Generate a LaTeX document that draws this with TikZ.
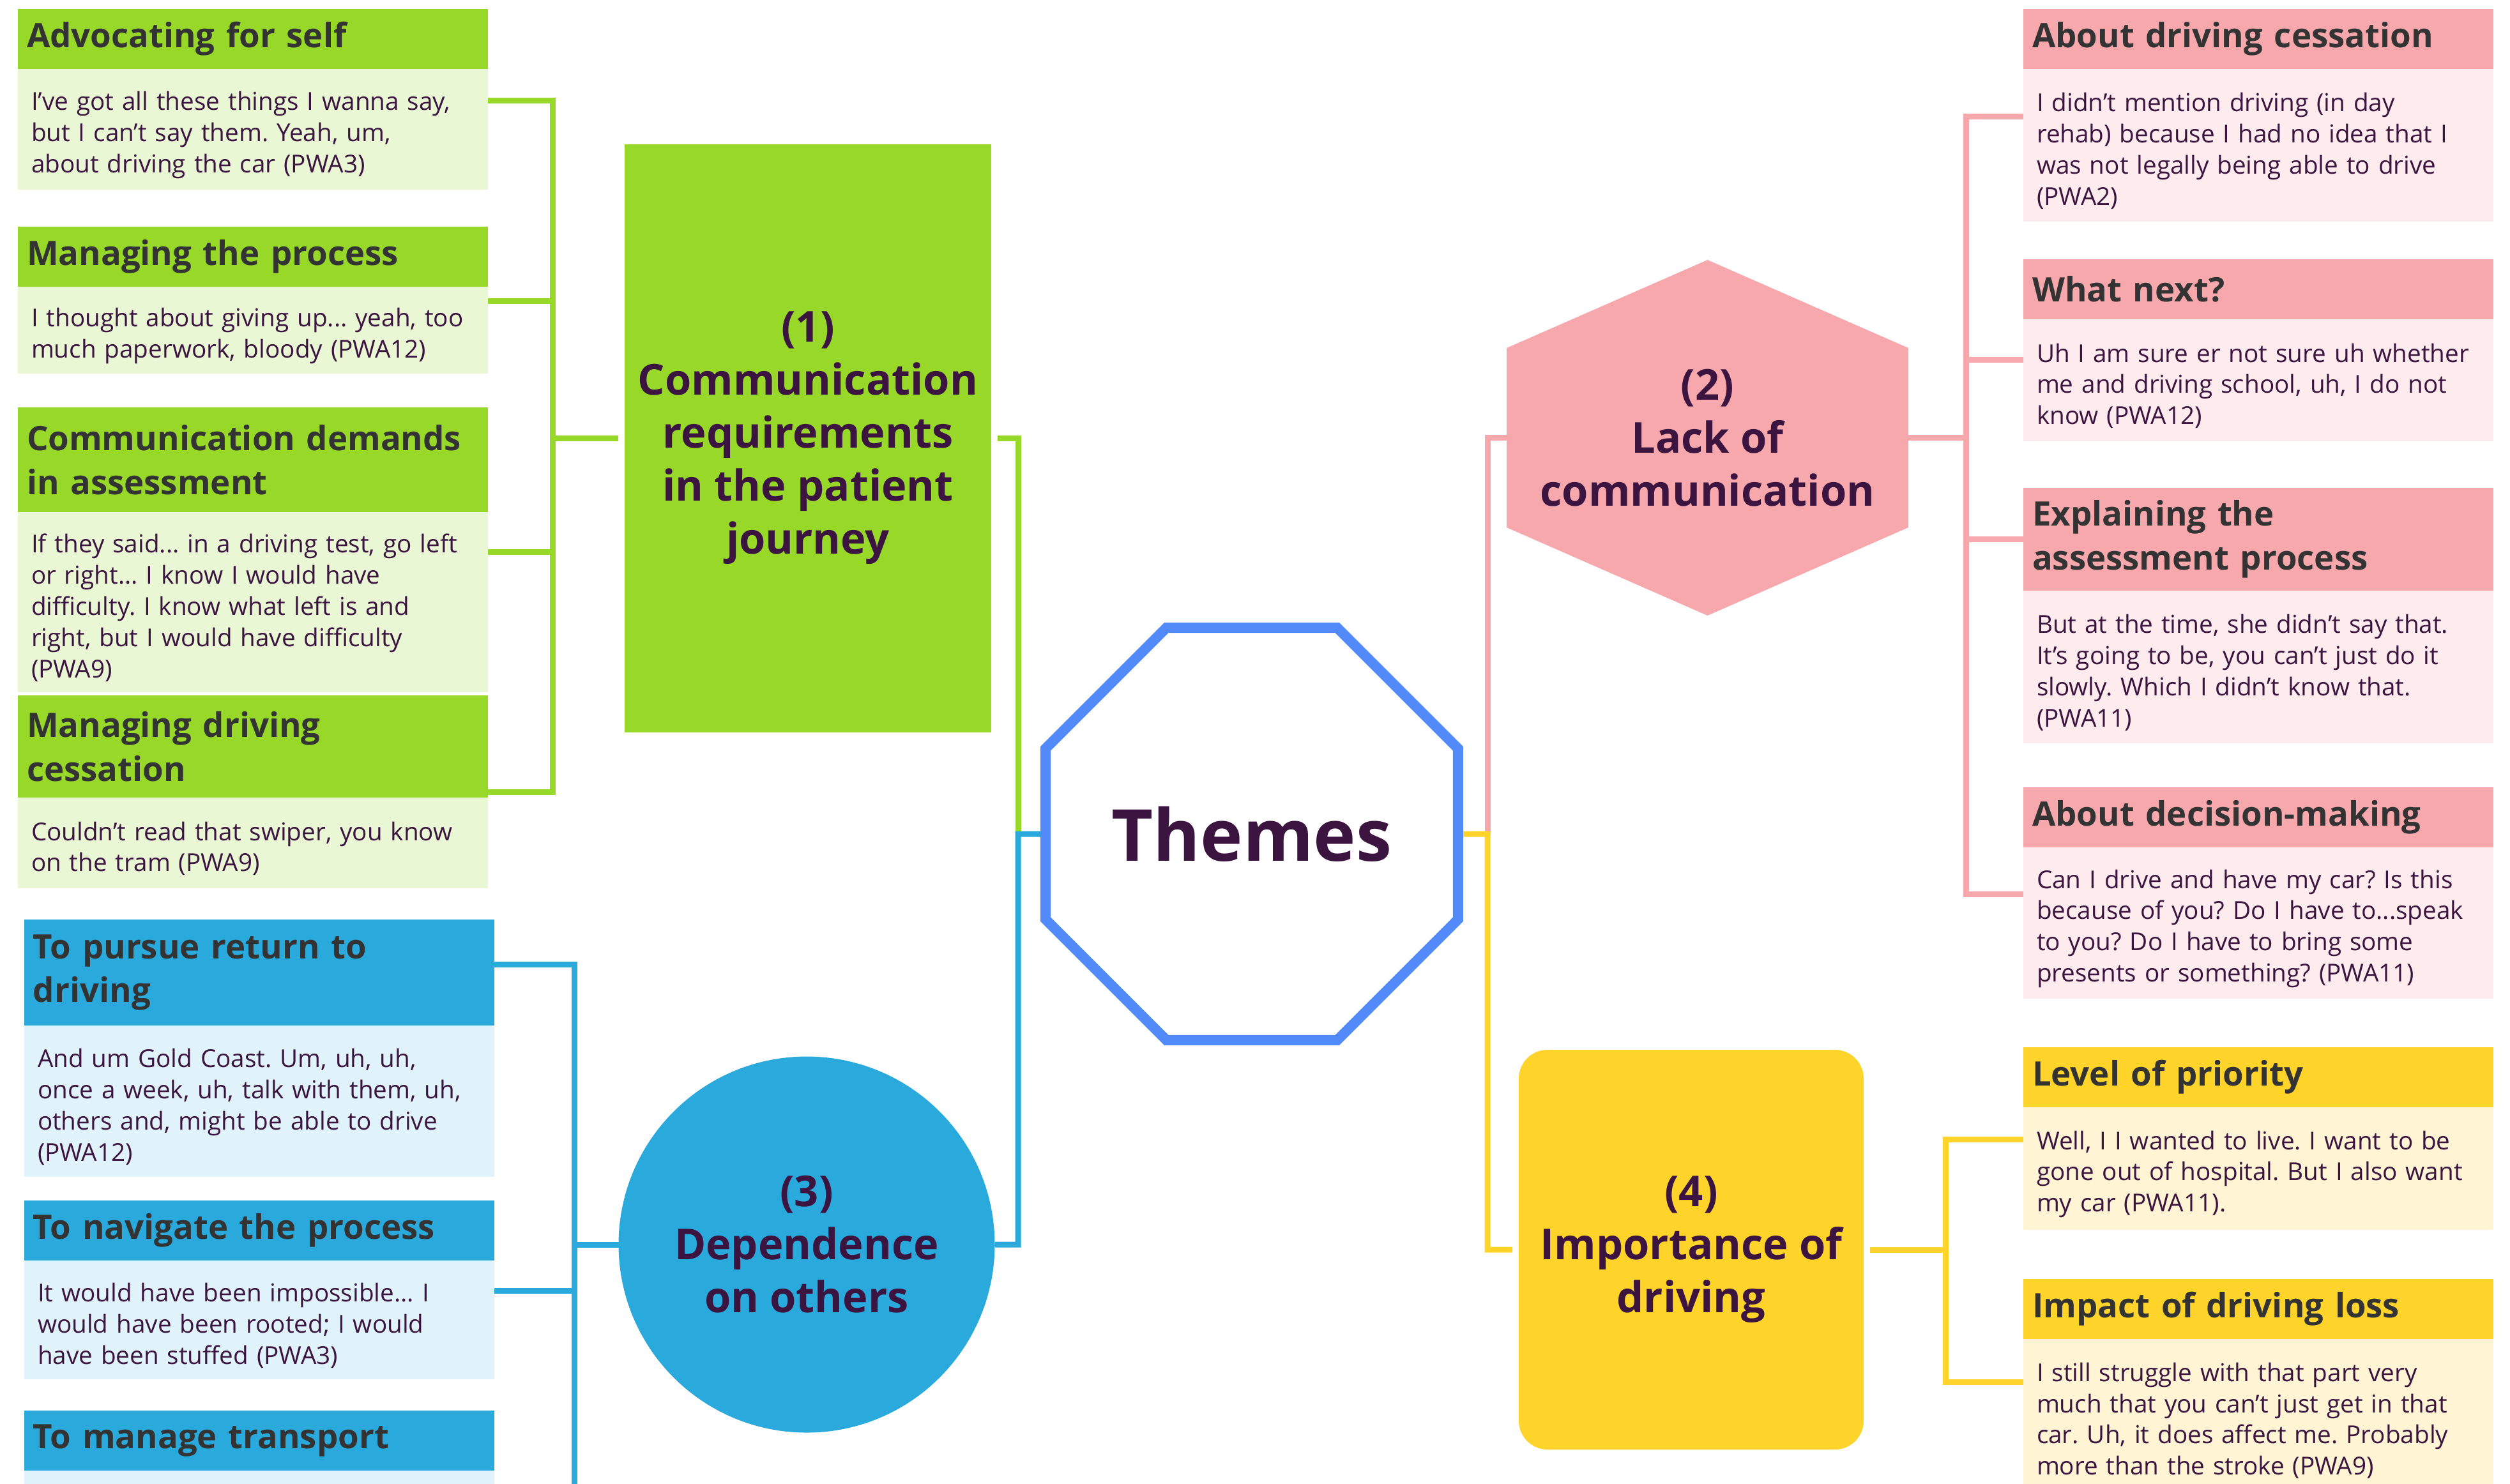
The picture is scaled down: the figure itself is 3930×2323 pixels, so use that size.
\documentclass[tikz,border=0pt]{standalone}
\usepackage{fontspec}
\setmainfont{Open Sans}
\usetikzlibrary{positioning,shapes.geometric}
\frenchspacing

\definecolor{leaf}{HTML}{97D828}
\definecolor{leafl}{HTML}{E9F7D5}
\definecolor{sky}{HTML}{2AAADC}
\definecolor{skyl}{HTML}{E1F3FA}
\definecolor{rose}{HTML}{F6A8AD}
\definecolor{rosel}{HTML}{FDEBED}
\definecolor{sun}{HTML}{FFD42A}
\definecolor{sunl}{HTML}{FFF5D5}
\definecolor{octblue}{HTML}{528AFA}
\definecolor{plum}{HTML}{3B1440}
\definecolor{headgray}{HTML}{333333}

\begin{document}
\begin{tikzpicture}[
            x=0.1mm, y=-0.1mm,
            head/.style={
                    anchor=north west,
                    rectangle,
                    inner xsep=1.4mm,
                    inner ysep=0pt,
                    outer sep=0pt,
                    text width=70.8mm,
                    minimum height=9.4mm,
                    align=left,
                    text=headgray,
                    font=\fontsize{15}{19.6}\selectfont\bfseries
                },
            quote/.style={
                    rectangle,
                    inner xsep=2.1mm,
                    inner ysep=0pt,
                    outer sep=0pt,
                    text width=69.4mm,
                    align=left,
                    text=plum,
                    font=\fontsize{11}{13.9}\selectfont,
                    execute at begin node={\rule{0pt}{4.7mm}}
                },
            topic/.style={
                    align=center,
                    inner sep=0pt,
                    outer sep=0pt,
                    text=plum,
                    font=\fontsize{19}{23.6}\selectfont\bfseries
                },
            hub/.style={
                    regular polygon,
                    regular polygon sides=8,
                    minimum size=69.9mm,
                    inner sep=0pt,
                    draw=octblue,
                    line width=1.6mm,
                    text=plum,
                    font=\fontsize{32}{36}\selectfont\bfseries
                },
            tie/.style={
                    line width=0.9mm
                },
            node distance=0pt
        ]

        \useasboundingbox (0,0) rectangle (3930,2323);
        \clip (0,0) rectangle (3930,2323);

        % ---- theme 1 ----
        \node[head, fill=leaf] (adv) at (28,14) {Advocating for self};
        \node[quote, fill=leafl, minimum height=18.9mm, below=of adv] (advq) {I’ve got all these things I wanna say,\\but I can’t say them. Yeah, um,\\about driving the car (PWA3)};
        \node[head, fill=leaf] (manage) at (28,355) {Managing the process};
        \node[quote, fill=leafl, minimum height=13.6mm, below=of manage] (manageq) {I thought about giving up... yeah, too\\much paperwork, bloody (PWA12)};
        \node[head, fill=leaf, minimum height=16.4mm] (demands) at (28,638) {Communication demands\\in assessment};
        \node[quote, fill=leafl, minimum height=28.2mm, below=of demands] (demandsq) {If they said... in a driving test, go left\\or right... I know I would have\\difficulty. I know what left is and\\right, but I would have difficulty\\(PWA9)};
        \node[head, fill=leaf, minimum height=16mm] (cess) at (28,1089) {Managing driving\\cessation};
        \node[quote, fill=leafl, minimum height=14.2mm, below=of cess] (cessq) {Couldn’t read that swiper, you know\\on the tram (PWA9)};

        % ---- theme 3 ----
        \node[head, fill=sky, minimum height=16.6mm] (pursue) at (38,1440) {To pursue return to\\driving};
        \node[quote, fill=skyl, minimum height=23.7mm, below=of pursue] (pursueq) {And um Gold Coast. Um, uh, uh,\\once a week, uh, talk with them, uh,\\others and, might be able to drive\\(PWA12)};
        \node[head, fill=sky] (navigate) at (38,1880) {To navigate the process};
        \node[quote, fill=skyl, minimum height=18.6mm, below=of navigate] (navq) {It would have been impossible... I\\would have been rooted; I would\\have been stuffed (PWA3)};
        \node[head, fill=sky] (transport) at (38,2209) {To manage transport};
        \node[quote, fill=skyl, minimum height=19mm, below=of transport] (transportq) {};

        % ---- theme 2 ----
        \node[head, fill=rose] (about) at (3168,14) {About driving cessation};
        \node[quote, fill=rosel, minimum height=23.9mm, below=of about] (aboutq) {I didn’t mention driving (in day\\rehab) because I had no idea that I\\was not legally being able to drive\\(PWA2)};
        \node[head, fill=rose] (whatnext) at (3168,406) {What next?};
        \node[quote, fill=rosel, minimum height=19.1mm, below=of whatnext] (whatnextq) {Uh I am sure er not sure uh whether\\me and driving school, uh, I do not\\know (PWA12)};
        \node[head, fill=rose, minimum height=16.1mm] (explain) at (3168,764) {Explaining the\\assessment process};
        \node[quote, fill=rosel, minimum height=23.9mm, below=of explain] (explainq) {But at the time, she didn't say that.\\It's going to be, you can't just do it\\slowly. Which I didn't know that.\\(PWA11)};
        \node[head, fill=rose] (decision) at (3168,1233) {About decision-making};
        \node[quote, fill=rosel, minimum height=23.7mm, below=of decision] (decisionq) {Can I drive and have my car? Is this\\because of you? Do I have to...speak\\to you? Do I have to bring some\\presents or something? (PWA11)};

        % ---- theme 4 ----
        \node[head, fill=sun] (priority) at (3168,1640) {Level of priority};
        \node[quote, fill=sunl, minimum height=19.2mm, below=of priority] (priorityq) {Well, I I wanted to live. I want to be\\gone out of hospital. But I also want\\my car (PWA11).};
        \node[head, fill=sun] (impact) at (3168,2003) {Impact of driving loss};
        \node[quote, fill=sunl, minimum height=23.8mm, below=of impact] (impactq) {I still struggle with that part very\\much that you can't just get in that\\car. Uh, it does affect me. Probably\\more than the stroke (PWA9)};

        % ---- the four themes and the hub ----
        \node[topic, fill=leaf, minimum width=57.4mm, minimum height=92.1mm] (comm) at (1265,686) {(1)\\Communication\\requirements\\in the patient\\journey};
        \node[topic, fill=rose, minimum width=62.9mm, minimum height=28.1mm] (lack) at (2673.5,685.5) {(2)\\Lack of\\communication};
        \fill[rose] (lack.north west) -- ([yshift=13.8mm]lack.north) -- (lack.north east) -- cycle;
        \fill[rose] (lack.south west) -- ([yshift=-13.8mm]lack.south) -- (lack.south east) -- cycle;
        \node[topic, circle, fill=sky, minimum size=58.9mm] (depend) at (1263,1949) {(3)\\Dependence\\on others};
        \node[topic, fill=sun, rounded corners=4.5mm, minimum width=54mm, minimum height=62.6mm] (importance) at (2648,1957) {(4)\\Importance of\\driving};
        \node[hub] (themes) at (1960,1306) {Themes};

        \coordinate (gbus) at (865,686);
        \coordinate (mbus) at (1594,1306);
        \coordinate (bbus) at (899,1949);
        \coordinate (rbus) at (2329,1306);
        \coordinate (pbus) at (3078,685.5);
        \coordinate (ybus) at (3046,1957);

        \draw[tie, leaf] (advq.7) -| (gbus) |- (cess.-11);
        \draw[tie, leaf] (manageq.7) -| (gbus);
        \draw[tie, leaf] (demandsq.12) -| (gbus);
        \draw[tie, leaf, shorten >=1mm] (gbus) -- (comm.west);
        \draw[tie, leaf, shorten <=1mm] (comm.east) -| (mbus);

        \draw[tie, sky] (themes.west) -- (mbus) |- (depend.east);
        \draw[tie, sky] (pursue.2) -| (bbus) |- (transportq.7);
        \draw[tie, sky] (navq.7) -| (bbus);
        \draw[tie, sky] (bbus) -- (depend.west);

        \draw[tie, rose] (aboutq.173) -| (pbus) |- (decisionq.173);
        \draw[tie, rose] (whatnextq.175) -| (pbus);
        \draw[tie, rose] (explain.west) -| (pbus);
        \draw[tie, rose] (lack.east) -- (pbus);
        \draw[tie, rose] (lack.west) -| (rbus);

        \draw[tie, sun, shorten >=1mm] (themes.east) -- (rbus) |- (importance.west);
        \draw[tie, sun, shorten <=1mm] (importance.east) -- (ybus);
        \draw[tie, sun] (priorityq.173) -| (ybus) |- (impactq.172);

    \end{tikzpicture}
\end{document}
